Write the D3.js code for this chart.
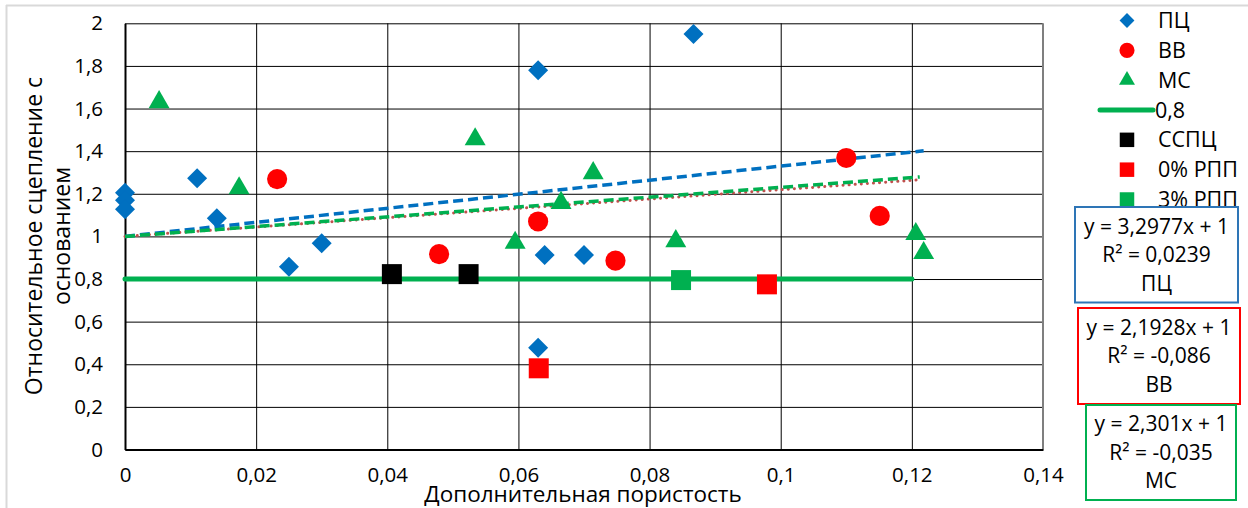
<!DOCTYPE html>
<html>
<head>
<meta charset="utf-8">
<script src="https://cdn.jsdelivr.net/npm/d3@7"></script>
<style>
  body { margin: 0; background: #fff; }
  text { font-family: "Open Sans", sans-serif; fill: #000; }
</style>
</head>
<body>
<script>
// ПЦ
const pcX = [0, 0, 0, 0.011, 0.014, 0.025, 0.030, 0.063, 0.064, 0.070, 0.063, 0.0867];
const pcY = [1.205, 1.17, 1.127, 1.273, 1.085, 0.858, 0.968, 1.78, 0.913, 0.913, 0.478, 1.95];
// ВВ
const vvX = [0.0232, 0.0479, 0.063, 0.0748, 0.110, 0.1151];
const vvY = [1.269, 0.917, 1.07, 0.886, 1.368, 1.096];
// МС
const msX = [0.0052, 0.0174, 0.0534, 0.0595, 0.0665, 0.0714, 0.084, 0.1206, 0.1218];
const msY = [1.63, 1.226, 1.456, 0.970, 1.157, 1.297, 0.978, 1.011, 0.922];
// ССПЦ, 0% РПП, 3% РПП
const sspcX = [0.0407, 0.0524];
const sspcY = [0.823, 0.823];
const rpp0X = [0.0979, 0.0631];
const rpp0Y = [0.775, 0.381];
const rpp3X = [0.0848];
const rpp3Y = [0.795];
// 0,8 line
const limitX = [0, 0.12];
const limitY = [0.8, 0.8];

// linear trends y = k*x + 1
const trendNames = ['ПЦ', 'ВВ', 'МС'];
const trendK = [3.2977, 2.1928, 2.301];
const trendEnd = [0.1218, 0.1212, 0.1212];
const trendR2 = ['0,0239', '-0,086', '-0,035'];
const trendEq = ['y = 3,2977x + 1', 'y = 2,1928x + 1', 'y = 2,301x + 1'];

const xTicks = [0, 0.02, 0.04, 0.06, 0.08, 0.1, 0.12, 0.14];
const yTicks = [0, 0.2, 0.4, 0.6, 0.8, 1, 1.2, 1.4, 1.6, 1.8, 2];

const legendNames = ['ПЦ', 'ВВ', 'МС', '0,8', 'ССПЦ', '0% РПП', '3% РПП'];

const W = 1248, H = 508;
const x = d3.scaleLinear().domain([0, 0.14]).range([125, 1043]);
const y = d3.scaleLinear().domain([0, 2]).range([449.5, 23.3]);
const fmt = d => String(+d.toFixed(2)).replace('.', ',');

const svg = d3.select('body').append('svg')
  .attr('width', W).attr('height', H);

// outer frame of the chart (cut off by the screenshot)
svg.append('line').attr('x1', 6).attr('x2', W).attr('y1', 5.5).attr('y2', 5.5)
  .attr('stroke', '#d9d9d9').attr('stroke-width', 2);
svg.append('line').attr('x1', 6.5).attr('x2', 6.5).attr('y1', 5).attr('y2', H)
  .attr('stroke', '#d9d9d9').attr('stroke-width', 2);

// grid
svg.append('g')
  .attr('transform', `translate(125,0)`)
  .call(d3.axisLeft(y).tickValues(yTicks).tickSize(-(1043 - 125)).tickFormat(''))
  .call(g => g.select('.domain').remove())
  .call(g => g.selectAll('line').attr('stroke', '#000').attr('stroke-width', 1));
svg.append('g')
  .attr('transform', `translate(0,23.3)`)
  .call(d3.axisTop(x).tickValues(xTicks.slice(1, -1)).tickSize(-(449.5 - 23.3)).tickFormat(''))
  .call(g => g.select('.domain').remove())
  .call(g => g.selectAll('line').attr('stroke', '#000').attr('stroke-width', 1));
svg.append('line').attr('x1', x(0.14)).attr('x2', x(0.14)).attr('y1', y(2)).attr('y2', y(0))
  .attr('stroke', '#7f7f7f').attr('stroke-width', 2);

// axes
const yAxis = svg.append('g').attr('transform', `translate(125,0)`)
  .call(d3.axisLeft(y).tickValues(yTicks).tickSize(0).tickPadding(22).tickFormat(fmt));
yAxis.select('.domain').attr('stroke', '#000').attr('stroke-width', 2);
yAxis.selectAll('text').style('font-size', '20.5px');
const xAxis = svg.append('g').attr('transform', `translate(0,449.5)`)
  .call(d3.axisBottom(x).tickValues(xTicks).tickSize(0).tickPadding(18).tickFormat(fmt));
xAxis.select('.domain').attr('stroke', '#000').attr('stroke-width', 2);
xAxis.selectAll('text').style('font-size', '20.5px');

// axis titles
svg.append('text').attr('x', 583).attr('y', 502).attr('text-anchor', 'middle')
  .style('font-size', '22.5px').text('Дополнительная пористость');
const yt = svg.append('text').attr('transform', 'translate(42,236) rotate(-90)')
  .attr('text-anchor', 'middle').style('font-size', '23px');
yt.append('tspan').attr('x', 0).attr('y', 0).text('Относительное сцепление с');
yt.append('tspan').attr('x', 0).attr('y', 28).text('основанием');

// trend lines
const trendStyle = [
  { c: '#0070C0', w: 3.5, d: '10,5', cap: 'butt' },
  { c: '#C0504D', w: 3, d: '0.1,6', cap: 'round' },
  { c: '#00B050', w: 3.5, d: '10,5', cap: 'butt' }
];
trendK.forEach((k, i) => {
  svg.append('line')
    .attr('x1', x(0)).attr('y1', y(1))
    .attr('x2', x(trendEnd[i])).attr('y2', y(1 + k * trendEnd[i]))
    .attr('stroke', trendStyle[i].c).attr('stroke-width', trendStyle[i].w)
    .attr('stroke-dasharray', trendStyle[i].d).attr('stroke-linecap', trendStyle[i].cap);
});

// 0,8 line
svg.append('path')
  .attr('d', d3.line()(limitX.map((v, i) => [x(v), y(limitY[i])])))
  .attr('stroke', '#00B050').attr('stroke-width', 5).attr('fill', 'none')
  .attr('stroke-linecap', 'round');

// markers
const sym = (type, size) => d3.symbol().type(type).size(size)();
function points(xs, ys, type, size, color, rot) {
  svg.append('g').selectAll('path')
    .data(xs.map((v, i) => [v, ys[i]]))
    .join('path')
    .attr('d', sym(type, size))
    .attr('transform', d => `translate(${x(d[0])},${y(d[1])})` + (rot ? ` rotate(${rot})` : ''))
    .attr('fill', color);
}
points(pcX, pcY, d3.symbolSquare, 200, '#0070C0', 45);
points(vvX, vvY, d3.symbolCircle, 320, '#FF0000');
points(msX, msY, d3.symbolTriangle, 190, '#00B050');
points(sspcX, sspcY, d3.symbolSquare, 400, '#000000');
points(rpp0X, rpp0Y, d3.symbolSquare, 400, '#FF0000');
points(rpp3X, rpp3Y, d3.symbolSquare, 400, '#00B050');

// legend
const legSym = [
  { t: d3.symbolSquare, s: 110, c: '#0070C0', r: 45 },
  { t: d3.symbolCircle, s: 180, c: '#FF0000' },
  { t: d3.symbolTriangle, s: 110, c: '#00B050' },
  null,
  { t: d3.symbolSquare, s: 210, c: '#000000' },
  { t: d3.symbolSquare, s: 210, c: '#FF0000' },
  { t: d3.symbolSquare, s: 210, c: '#00B050' }
];
const legY = d3.scalePoint().domain(legendNames).range([20.5, 199.5]);
legendNames.forEach((n, i) => {
  const yy = legY(n);
  if (legSym[i]) {
    svg.append('path').attr('d', sym(legSym[i].t, legSym[i].s))
      .attr('transform', `translate(1127,${yy})` + (legSym[i].r ? ` rotate(${legSym[i].r})` : ''))
      .attr('fill', legSym[i].c);
  } else {
    svg.append('line').attr('x1', 1100).attr('x2', 1153).attr('y1', yy).attr('y2', yy)
      .attr('stroke', '#00B050').attr('stroke-width', 5).attr('stroke-linecap', 'round');
  }
  svg.append('text').attr('x', n === '0,8' ? 1155 : 1158).attr('y', yy).attr('dy', '0.35em')
    .style('font-size', '21.5px').text(n);
});

// trend equation boxes
const boxes = [
  { l: 1075, r: 1238, t: 207, b: 302.5, c: '#2E75B6' },
  { l: 1078, r: 1240, t: 308, b: 404, c: '#FF0000' },
  { l: 1086, r: 1236, t: 405, b: 500, c: '#00B050' }
];
boxes.forEach((bx, i) => {
  svg.append('rect').attr('x', bx.l).attr('y', bx.t)
    .attr('width', bx.r - bx.l).attr('height', bx.b - bx.t)
    .attr('fill', '#fff').attr('stroke', bx.c).attr('stroke-width', 2);
  const cx = (bx.l + bx.r) / 2, cy = (bx.t + bx.b) / 2;
  [trendEq[i], 'R² = ' + trendR2[i], trendNames[i]].forEach((s, j) => {
    svg.append('text').attr('x', cx).attr('y', cy + (j - 1) * 28.5).attr('dy', '0.35em')
      .attr('text-anchor', 'middle').style('font-size', '21px').text(s);
  });
});
</script>
</body>
</html>
